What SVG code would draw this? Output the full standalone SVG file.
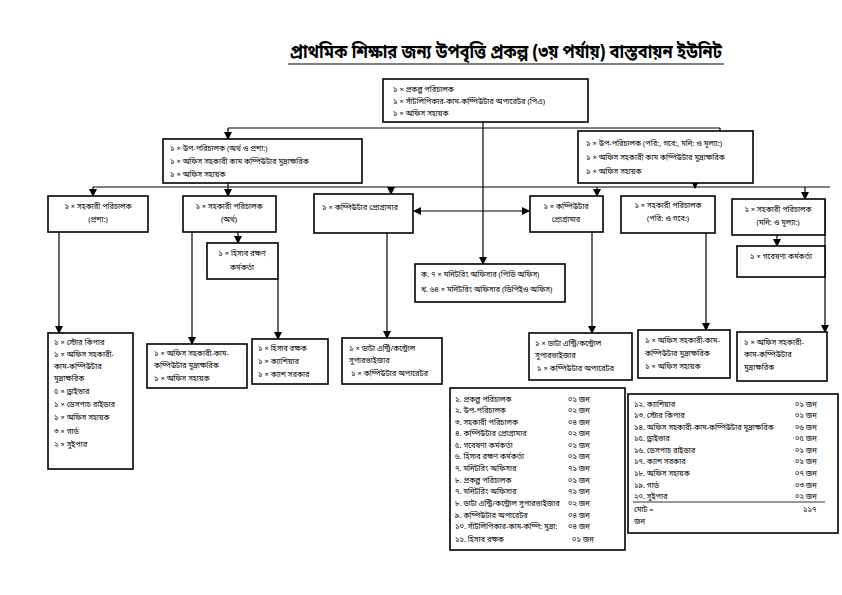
<svg xmlns="http://www.w3.org/2000/svg" width="842" height="595" viewBox="0 0 842 595">
<defs>
<marker id="ah" markerWidth="8" markerHeight="8" refX="7" refY="4" orient="auto" markerUnits="userSpaceOnUse">
<path d="M0,0 L8,4 L0,8 Z" fill="#000"/>
</marker>
<style>
text{font-family:"Noto Sans Bengali","Noto Sans",sans-serif;fill:#000;font-size:7.5px}
.title{font-size:19px;font-weight:bold}
.box{fill:#fff;stroke:#000;stroke-width:1.6}
.c{text-anchor:middle}
.ln{stroke:#000;stroke-width:1.2;fill:none}
.ar{stroke:#000;stroke-width:1.2;fill:none;marker-end:url(#ah)}
</style>
</defs>
<rect width="842" height="595" fill="#fff"/>
<text class="title" x="290" y="58" textLength="432" lengthAdjust="spacingAndGlyphs">প্রাথমিক শিক্ষার জন্য উপবৃত্তি প্রকল্প (৩য় পর্যায়) বাস্তবায়ন ইউনিট</text>
<line x1="288" y1="64" x2="724" y2="64" stroke="#000" stroke-width="1.2"/>

<g id="connectors">
<line class="ar" x1="483" y1="122" x2="483" y2="264"/>
<line class="ln" x1="228" y1="128" x2="720" y2="128"/>
<line class="ar" x1="228" y1="128" x2="228" y2="139"/>
<line class="ar" x1="720" y1="128" x2="720" y2="141"/>
<line class="ln" x1="228" y1="183" x2="228" y2="187"/>
<line class="ln" x1="93" y1="187" x2="830" y2="187"/>
<line class="ar" x1="695" y1="183" x2="695" y2="188"/>
<line class="ar" x1="93" y1="187" x2="93" y2="196"/>
<line class="ar" x1="228" y1="187" x2="228" y2="196"/>
<line class="ar" x1="391" y1="187" x2="391" y2="194"/>
<line class="ar" x1="597" y1="187" x2="597" y2="196"/>
<line class="ar" x1="805" y1="187" x2="805" y2="199"/>
<line class="ar" x1="483" y1="211" x2="414" y2="211"/>
<line class="ar" x1="483" y1="211" x2="529" y2="211"/>
<line class="ar" x1="238" y1="232" x2="238" y2="243"/>
<line class="ar" x1="777" y1="235" x2="777" y2="246"/>
<line class="ar" x1="59" y1="232" x2="59" y2="333"/>
<line class="ar" x1="192" y1="232" x2="192" y2="344"/>
<line class="ar" x1="278" y1="279" x2="278" y2="339"/>
<line class="ar" x1="387" y1="233" x2="387" y2="338"/>
<line class="ar" x1="592" y1="232" x2="592" y2="333"/>
<line class="ar" x1="706" y1="233" x2="706" y2="330"/>
<line class="ar" x1="825" y1="199" x2="825" y2="332"/>
</g>

<g id="n-top">
<rect class="box" x="383" y="79" width="205" height="43"/>
<text x="393" y="92">১ × প্রকল্প পরিচালক</text>
<text x="393" y="104">১ × সাঁটলিপিকার-কাম-কম্পিউটার অপারেটর (পিএ)</text>
<text x="393" y="116">১ × অফিস সহায়ক</text>
</g>

<g id="n-dd-left">
<rect class="box" x="163" y="139" width="199" height="44"/>
<text x="170" y="151">১ × উপ-পরিচালক (অর্থ ও প্রশা:)</text>
<text x="170" y="164">১ × অফিস সহকারী কাম কম্পিউটার মুদ্রাক্ষরিক</text>
<text x="170" y="177">১ × অফিস সহায়ক</text>
</g>

<g id="n-dd-right">
<rect class="box" x="578" y="131" width="175" height="52"/>
<text x="586" y="146">১ × উপ-পরিচালক (পরি:, গবে:, মনি: ও মূল্যা:)</text>
<text x="586" y="160">১ × অফিস সহকারী কাম কম্পিউটার মুদ্রাক্ষরিক</text>
<text x="586" y="174">১ × অফিস সহায়ক</text>
</g>

<g id="n-ad-admin">
<rect class="box" x="48" y="196" width="100" height="36"/>
<text class="c" x="98" y="209">১ × সহকারী পরিচালক</text>
<text class="c" x="98" y="222">(প্রশা:)</text>
</g>

<g id="n-ad-fin">
<rect class="box" x="183" y="196" width="93" height="36"/>
<text class="c" x="229" y="209">১ × সহকারী পরিচালক</text>
<text class="c" x="229" y="222">(অর্থ)</text>
</g>

<g id="n-prog-left">
<rect class="box" x="314" y="194" width="99" height="39"/>
<text x="322" y="210">১ × কম্পিউটার প্রোগ্রামার</text>
</g>

<g id="n-acc-officer">
<rect class="box" x="207" y="243" width="71" height="36"/>
<text class="c" x="242" y="256">১ × হিসাব রক্ষণ</text>
<text class="c" x="242" y="270">কর্মকর্তা</text>
</g>

<g id="n-prog-right">
<rect class="box" x="530" y="196" width="73" height="36"/>
<text class="c" x="566" y="209">১ × কম্পিউটার</text>
<text class="c" x="566" y="222">প্রোগ্রামার</text>
</g>

<g id="n-ad-plan">
<rect class="box" x="621" y="196" width="94" height="37"/>
<text class="c" x="668" y="208">১ × সহকারী পরিচালক</text>
<text class="c" x="668" y="221">(পরি: ও গবে:)</text>
</g>

<g id="n-ad-mon">
<rect class="box" x="732" y="199" width="93" height="36"/>
<text class="c" x="778" y="212">১ × সহকারী পরিচালক</text>
<text class="c" x="778" y="225">(মনি: ও মূল্যা:)</text>
</g>

<g id="n-research">
<rect class="box" x="737" y="246" width="88" height="31"/>
<text class="c" x="781" y="259">১ × গবেষণা কর্মকর্তা</text>
</g>

<g id="n-monitoring">
<rect class="box" x="415" y="264" width="150" height="38"/>
<text x="421" y="277">ক. ৭ × মনিটরিং অফিসার (পিডি অফিস)</text>
<text x="421" y="292">খ. ৬৪ × মনিটরিং অফিসার (ডিপিইও অফিস)</text>
</g>

<g id="n-admin-staff">
<rect class="box" x="48" y="333" width="85" height="136"/>
<text x="54" y="345">১ × স্টোর কিপার</text>
<text x="54" y="357">১ × অফিস সহকারী-</text>
<text x="54" y="369">কাম-কম্পিউটার</text>
<text x="54" y="381">মুদ্রাক্ষরিক</text>
<text x="54" y="394">৫ × ড্রাইভার</text>
<text x="54" y="407">১ × ডেসপাচ রাইডার</text>
<text x="54" y="420">১ × অফিস সহায়ক</text>
<text x="54" y="434">৩ × গার্ড</text>
<text x="54" y="447">২ × সুইপার</text>
</g>

<g id="n-fin-staff">
<rect class="box" x="147" y="344" width="100" height="44"/>
<text x="154" y="356">১ × অফিস সহকারী-কাম-</text>
<text x="154" y="368">কম্পিউটার মুদ্রাক্ষরিক</text>
<text x="154" y="381">১ × অফিস সহায়ক</text>
</g>

<g id="n-acc-staff">
<rect class="box" x="252" y="339" width="76" height="45"/>
<text x="258" y="351">১ × হিসাব রক্ষক</text>
<text x="258" y="364">১ × ক্যাশিয়ার</text>
<text x="258" y="377">১ × ক্যাশ সরকার</text>
</g>

<g id="n-prog-left-staff">
<rect class="box" x="342" y="338" width="100" height="46"/>
<text x="349" y="351">১ × ডাটা এন্ট্রি/কন্ট্রোল</text>
<text x="349" y="363">সুপারভাইজার</text>
<text x="351" y="376">১ × কম্পিউটার অপারেটর</text>
</g>

<g id="n-prog-right-staff">
<rect class="box" x="529" y="333" width="103" height="47"/>
<text x="535" y="346">১ × ডাটা এন্ট্রি/কন্ট্রোল</text>
<text x="535" y="358">সুপারভাইজার</text>
<text x="537" y="371">১ × কম্পিউটার অপারেটর</text>
</g>

<g id="n-plan-staff">
<rect class="box" x="638" y="330" width="92" height="48"/>
<text x="645" y="343">১ × অফিস সহকারী-কাম-</text>
<text x="645" y="356">কম্পিউটার মুদ্রাক্ষরিক</text>
<text x="645" y="369">১ × অফিস সহায়ক</text>
</g>

<g id="n-mon-staff">
<rect class="box" x="737" y="332" width="90" height="49"/>
<text x="744" y="345">১ × অফিস সহকারী-</text>
<text x="744" y="357">কাম-কম্পিউটার</text>
<text x="744" y="370">মুদ্রাক্ষরিক</text>
</g>

<g id="summary-1">
<rect class="box" x="450" y="388" width="175" height="162"/>
<text x="455" y="402">১. প্রকল্প পরিচালক</text><text x="568" y="402">০১ জন</text>
<text x="455" y="413">২. উপ-পরিচালক</text><text x="568" y="413">০২ জন</text>
<text x="455" y="425">৩. সহকারী পরিচালক</text><text x="568" y="425">০৪ জন</text>
<text x="455" y="436">৪. কম্পিউটার প্রোগ্রামার</text><text x="568" y="436">০২ জন</text>
<text x="455" y="448">৫. গবেষণা কর্মকর্তা</text><text x="568" y="448">০১ জন</text>
<text x="455" y="459">৬. হিসাব রক্ষণ কর্মকর্তা</text><text x="568" y="459">০১ জন</text>
<text x="455" y="471">৭. মনিটরিং অফিসার</text><text x="568" y="471">৭১ জন</text>
<text x="455" y="483">৮. প্রকল্প পরিচালক</text><text x="568" y="483">০১ জন</text>
<text x="455" y="494">৭. মনিটরিং অফিসার</text><text x="568" y="494">৭১ জন</text>
<text x="455" y="506">৮. ডাটা এন্ট্রি/কন্ট্রোল সুপারভাইজার</text><text x="568" y="506">০২ জন</text>
<text x="455" y="518">৯. কম্পিউটার অপারেটর</text><text x="568" y="518">০৪ জন</text>
<text x="455" y="529">১০. সাঁটলিপিকার-কাম-কম্পি: মুদ্রা:</text><text x="568" y="529">০৪ জন</text>
<text x="455" y="542">১১. হিসাব রক্ষক</text><text x="572" y="542">০১ জন</text>
</g>

<g id="summary-2">
<rect class="box" x="628" y="394" width="210" height="139"/>
<text x="634" y="407">১২. ক্যাশিয়ার</text><text x="795" y="407">০১ জন</text>
<text x="634" y="418">১৩. স্টোর কিপার</text><text x="795" y="418">০১ জন</text>
<text x="634" y="430">১৪. অফিস সহকারী-কাম-কম্পিউটার মুদ্রাক্ষরিক</text><text x="795" y="430">০৬ জন</text>
<text x="634" y="441">১৫. ড্রাইভার</text><text x="795" y="441">০৫ জন</text>
<text x="634" y="453">১৬. ডেসপাচ রাইডার</text><text x="795" y="453">০১ জন</text>
<text x="634" y="464">১৭. ক্যাশ সরকার</text><text x="795" y="464">০১ জন</text>
<text x="634" y="476">১৮. অফিস সহায়ক</text><text x="795" y="476">০৭ জন</text>
<text x="634" y="488">১৯. গার্ড</text><text x="795" y="488">০৩ জন</text>
<text x="634" y="499">২০. সুইপার</text><text x="795" y="499">০২ জন</text>
<line x1="633" y1="502" x2="825" y2="502" stroke="#000" stroke-width="0.8"/>
<text x="634" y="512">মোট =</text><text x="803" y="512">১১৭</text>
<text x="634" y="524">জন</text>
</g>
</svg>
